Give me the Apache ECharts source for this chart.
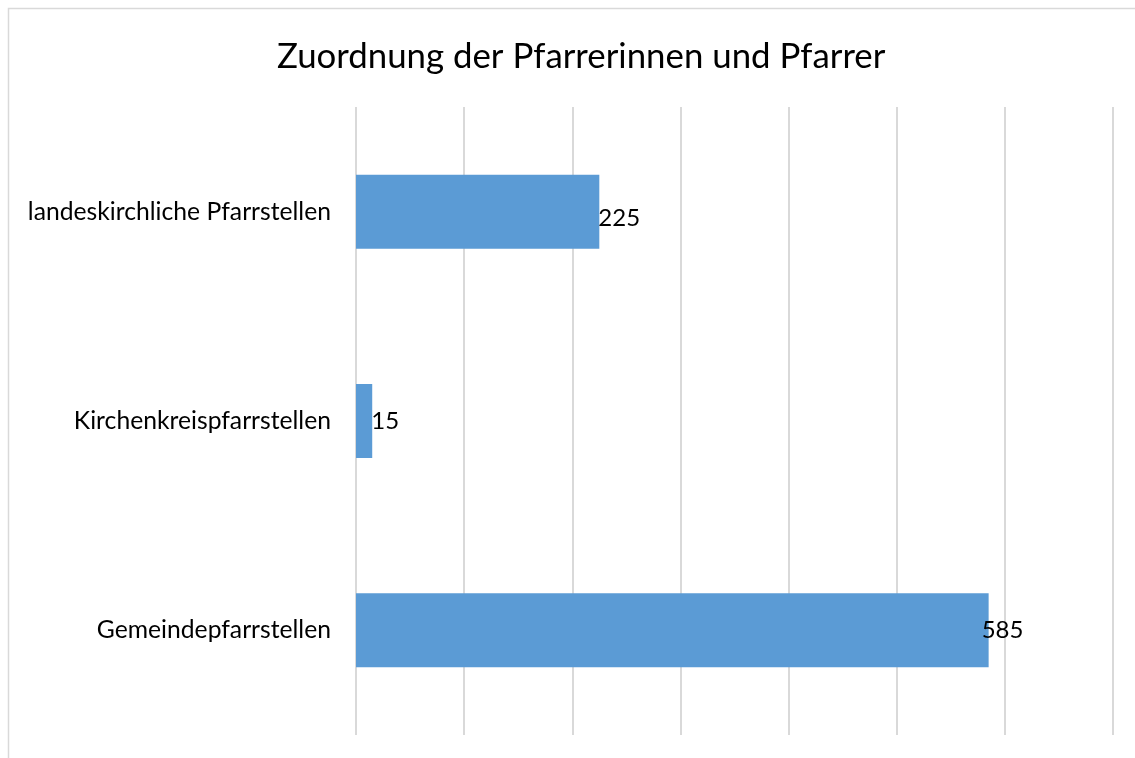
<!DOCTYPE html>
<html>
<head>
<meta charset="utf-8">
<script src="https://cdn.jsdelivr.net/npm/echarts@6/dist/echarts.min.js"></script>
<style>
  html, body { margin: 0; padding: 0; background: #fff; }
  #chart { width: 1135px; height: 758px; }
</style>
</head>
<body>
<div id="chart"></div>
<script>
// Kategorien von unten nach oben (ECharts zeichnet die erste Kategorie unten)
var categories = ['Gemeindepfarrstellen', 'Kirchenkreispfarrstellen', 'landeskirchliche Pfarrstellen']
var values = [585, 15, 225]
var axisMax = 700
var axisStep = 100

var chart = echarts.init(document.getElementById('chart'))

// Beschriftung wie im Original leicht versetzt
var labelShift = [[-6, 0], [0, 0], [0, 7]]
var barData = values.map(function(v, i) {
  return { value: v, label: { offset: labelShift[i] } }
})

chart.setOption({
  animation: false,
  textStyle: { fontFamily: 'Lato' },
  title: {
    text: 'Zuordnung der Pfarrerinnen und Pfarrer',
    left: 272,
    top: 34,
    textStyle: { fontFamily: 'Lato', fontSize: 34.8, fontWeight: 'normal', color: '#000' }
  },
  // Rahmen um das Diagramm
  graphic: [{
    type: 'rect',
    shape: { x: 8.5, y: 8.5, width: 1200, height: 800 },
    style: { fill: 'none', stroke: '#d9d9d9', lineWidth: 1.5 },
    silent: true
  }],
  grid: {
    left: 356,
    right: 22,
    top: 107,
    bottom: 23,
    containLabel: false
  },
  xAxis: {
    type: 'value',
    min: 0,
    max: axisMax,
    interval: axisStep,
    axisLabel: { show: false },
    axisLine: { show: false },
    axisTick: { show: false },
    splitLine: { lineStyle: { color: '#d9d9d9', width: 2 } }
  },
  yAxis: {
    type: 'category',
    data: categories,
    axisLine: { show: false },
    axisTick: { show: false },
    axisLabel: { margin: 25, fontSize: 24.7, color: '#000', fontFamily: 'Lato' }
  },
  series: [{
    type: 'bar',
    data: barData,
    barWidth: 74,
    itemStyle: { color: '#5b9bd5' },
    label: {
      show: true,
      position: 'right',
      distance: -1,
      fontSize: 24,
      color: '#000',
      fontFamily: 'Lato'
    }
  }]
})
</script>
</body>
</html>
